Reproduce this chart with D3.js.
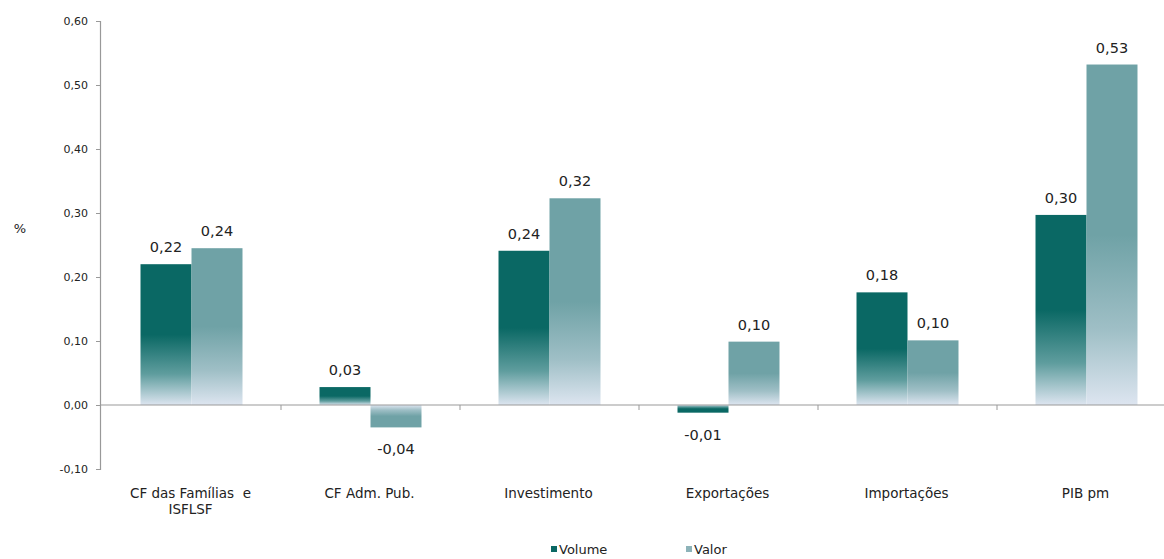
<!DOCTYPE html>
<html>
<head>
<meta charset="utf-8">
<script src="https://cdn.jsdelivr.net/npm/d3@7"></script>
<style>
  html, body { margin: 0; padding: 0; background: #ffffff; }
  svg { display: block; }
  text { font-family: "DejaVu Sans", Verdana, sans-serif; fill: #222; }
</style>
</head>
<body>
<svg id="chart" width="1164" height="559"></svg>
<script>
// Contributions to GDP growth (%), volume vs. value
const categories = ["CF das Famílias  e\nISFLSF", "CF Adm. Pub.", "Investimento", "Exportações", "Importações", "PIB pm"];
const seriesNames = ["Volume", "Valor"];
const volumeValues = [0.220, 0.028, 0.241, -0.012, 0.176, 0.297];
const valorValues = [0.245, -0.035, 0.323, 0.099, 0.101, 0.532];
const yTicks = [-0.10, 0.00, 0.10, 0.20, 0.30, 0.40, 0.50, 0.60];

const svg = d3.select("#chart");
const fmt = v => d3.format(".2f")(v).replace(".", ",").replace("−", "-");

const y = d3.scaleLinear().domain([-0.1, 0.6]).range([469, 21]);
const step = 179;
const x0 = d3.scaleBand().domain(categories).range([102, 102 + categories.length * step]).padding(0);
const x1 = d3.scaleBand().domain(seriesNames).range([0, x0.bandwidth()]).paddingInner(0).paddingOuter(0.755);

// Gradients: solid at the value end, fading to pale toward the zero line
const defs = svg.append("defs");
const palette = {
  Volume: { dark: "#0a6864", mid: "#5f9d9e", light: "#dde5f0" },
  Valor:  { dark: "#6fa2a6", mid: "#9fbfc6", light: "#dde5f0" }
};
seriesNames.forEach(s => {
  ["pos", "neg"].forEach(sign => {
    const g = defs.append("linearGradient")
      .attr("id", `grad-${s}-${sign}`)
      .attr("x1", 0).attr("x2", 0)
      .attr("y1", sign === "pos" ? 0 : 1)
      .attr("y2", sign === "pos" ? 1 : 0);
    g.append("stop").attr("offset", "0%").attr("stop-color", palette[s].dark);
    g.append("stop").attr("offset", "50%").attr("stop-color", palette[s].dark);
    g.append("stop").attr("offset", "78%").attr("stop-color", palette[s].mid);
    g.append("stop").attr("offset", "100%").attr("stop-color", palette[s].light);
  });
});

const rows = categories.map((c, i) => ({
  category: c,
  values: [
    { series: "Volume", value: volumeValues[i] },
    { series: "Valor", value: valorValues[i] }
  ]
}));

// Y axis
const yAxis = d3.axisLeft(y)
  .tickValues(yTicks)
  .tickSize(4)
  .tickPadding(8)
  .tickFormat(fmt);
const yg = svg.append("g").attr("transform", "translate(100,0)").call(yAxis);
yg.select(".domain").attr("stroke", "#999").attr("stroke-width", 1.2);
yg.selectAll(".tick line").attr("stroke", "#999");
yg.selectAll(".tick text").style("font-size", "11px").attr("fill", "#222");

svg.append("text").attr("x", 20).attr("y", 233).attr("text-anchor", "middle")
  .style("font-size", "13px").text("%");

// Bars
const groups = svg.append("g").selectAll("g")
  .data(rows).join("g")
  .attr("transform", d => `translate(${x0(d.category)},0)`);

groups.selectAll("rect")
  .data(d => d.values).join("rect")
  .attr("x", d => x1(d.series))
  .attr("width", x1.bandwidth())
  .attr("y", d => y(Math.max(0, d.value)))
  .attr("height", d => Math.abs(y(d.value) - y(0)))
  .attr("fill", d => `url(#grad-${d.series}-${d.value >= 0 ? "pos" : "neg"})`);

groups.selectAll("text.val")
  .data(d => d.values).join("text")
  .attr("class", "val")
  .attr("x", d => x1(d.series) + x1.bandwidth() / 2)
  .attr("y", d => d.value >= 0 ? y(d.value) - 12 : y(d.value) + 27)
  .attr("text-anchor", "middle")
  .style("font-size", "14.5px")
  .attr("fill", "#2a2a2a")
  .text(d => fmt(d.value));

// X axis: zero line with ticks at category boundaries
const xg = svg.append("g");
xg.append("line")
  .attr("x1", 100).attr("x2", x0.range()[1])
  .attr("y1", y(0)).attr("y2", y(0))
  .attr("stroke", "#999").attr("stroke-width", 1.2);
xg.selectAll("line.tick")
  .data(categories.slice(1)).join("line")
  .attr("class", "tick")
  .attr("x1", d => x0(d)).attr("x2", d => x0(d))
  .attr("y1", y(0)).attr("y2", y(0) + 5)
  .attr("stroke", "#999");

// Category labels below the plot
const catLabels = svg.append("g").selectAll("text")
  .data(categories).join("text")
  .attr("x", d => x0(d) + x0.bandwidth() / 2 - 1)
  .attr("y", 498)
  .attr("text-anchor", "middle")
  .style("font-size", "13.5px")
  .style("white-space", "pre");
catLabels.each(function(d) {
  const lines = d.split("\n");
  d3.select(this).selectAll("tspan").data(lines).join("tspan")
    .attr("x", d3.select(this).attr("x"))
    .attr("dy", (l, i) => i === 0 ? 0 : 16)
    .text(l => l);
});

// Legend
const legendItems = [
  { name: "Volume", color: "#0a6864", x: 551 },
  { name: "Valor", color: "#8db3b9", x: 686 }
];
const lg = svg.append("g").selectAll("g").data(legendItems).join("g")
  .attr("transform", d => `translate(${d.x},549)`);
lg.append("rect").attr("x", 0).attr("y", -3).attr("width", 6).attr("height", 6)
  .attr("fill", d => d.color);
lg.append("text").attr("x", 8).attr("y", 5).style("font-size", "13px").text(d => d.name);
</script>
</body>
</html>
